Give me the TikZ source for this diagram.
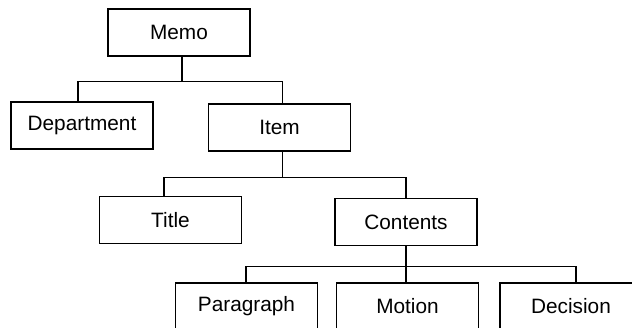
\documentclass[tikz,border=0pt]{standalone}
\usepackage{fontspec}
\setmainfont{Liberation Sans}

\begin{document}
\begin{tikzpicture}[x=0.5pt, y=-0.5pt, line width=0.7pt,
    box/.style={draw, minimum width=71pt, minimum height=23.5pt, inner sep=0pt,
      font=\fontsize{10.4}{12}\selectfont}]
    \clip (0,0) rectangle (632,327);
    \node[box] (memo) at (179,32.5) {Memo};
    \node[box] (dept) at (82,125.5) {Department};
    \node[box] (item) at (279.5,127.5) {Item};
    \node[box] (title) at (170.5,220) {Title};
    \node[box] (contents) at (406,222) {Contents};
    \node[box] (para) at (246.5,306.5) {Paragraph};
    \node[box] (motion) at (407.5,306.5) {Motion};
    \node[box] (decision) at (571,306.5) {Decision};
    % forks between levels
    \draw ([xshift=1.5pt]memo.south) -- ++(0,25) -| ([xshift=-2pt]dept.north);
    \draw ([xshift=1.5pt]memo.south) -- ++(0,25) -| ([xshift=1.5pt]item.north);
    \draw ([xshift=1.5pt]item.south) -- ++(0,26) -| ([xshift=-3.25pt]title.north);
    \draw ([xshift=1.5pt]item.south) -- ++(0,26) -| (contents.north);
    \draw (contents.south) -- ++(0,20) -| ([xshift=-0.25pt]para.north);
    \draw (contents.south) -- ++(0,20) -| ([xshift=-0.75pt]motion.north);
    \draw (contents.south) -- ++(0,20) -| ([xshift=2.5pt]decision.north);
\end{tikzpicture}
\end{document}
